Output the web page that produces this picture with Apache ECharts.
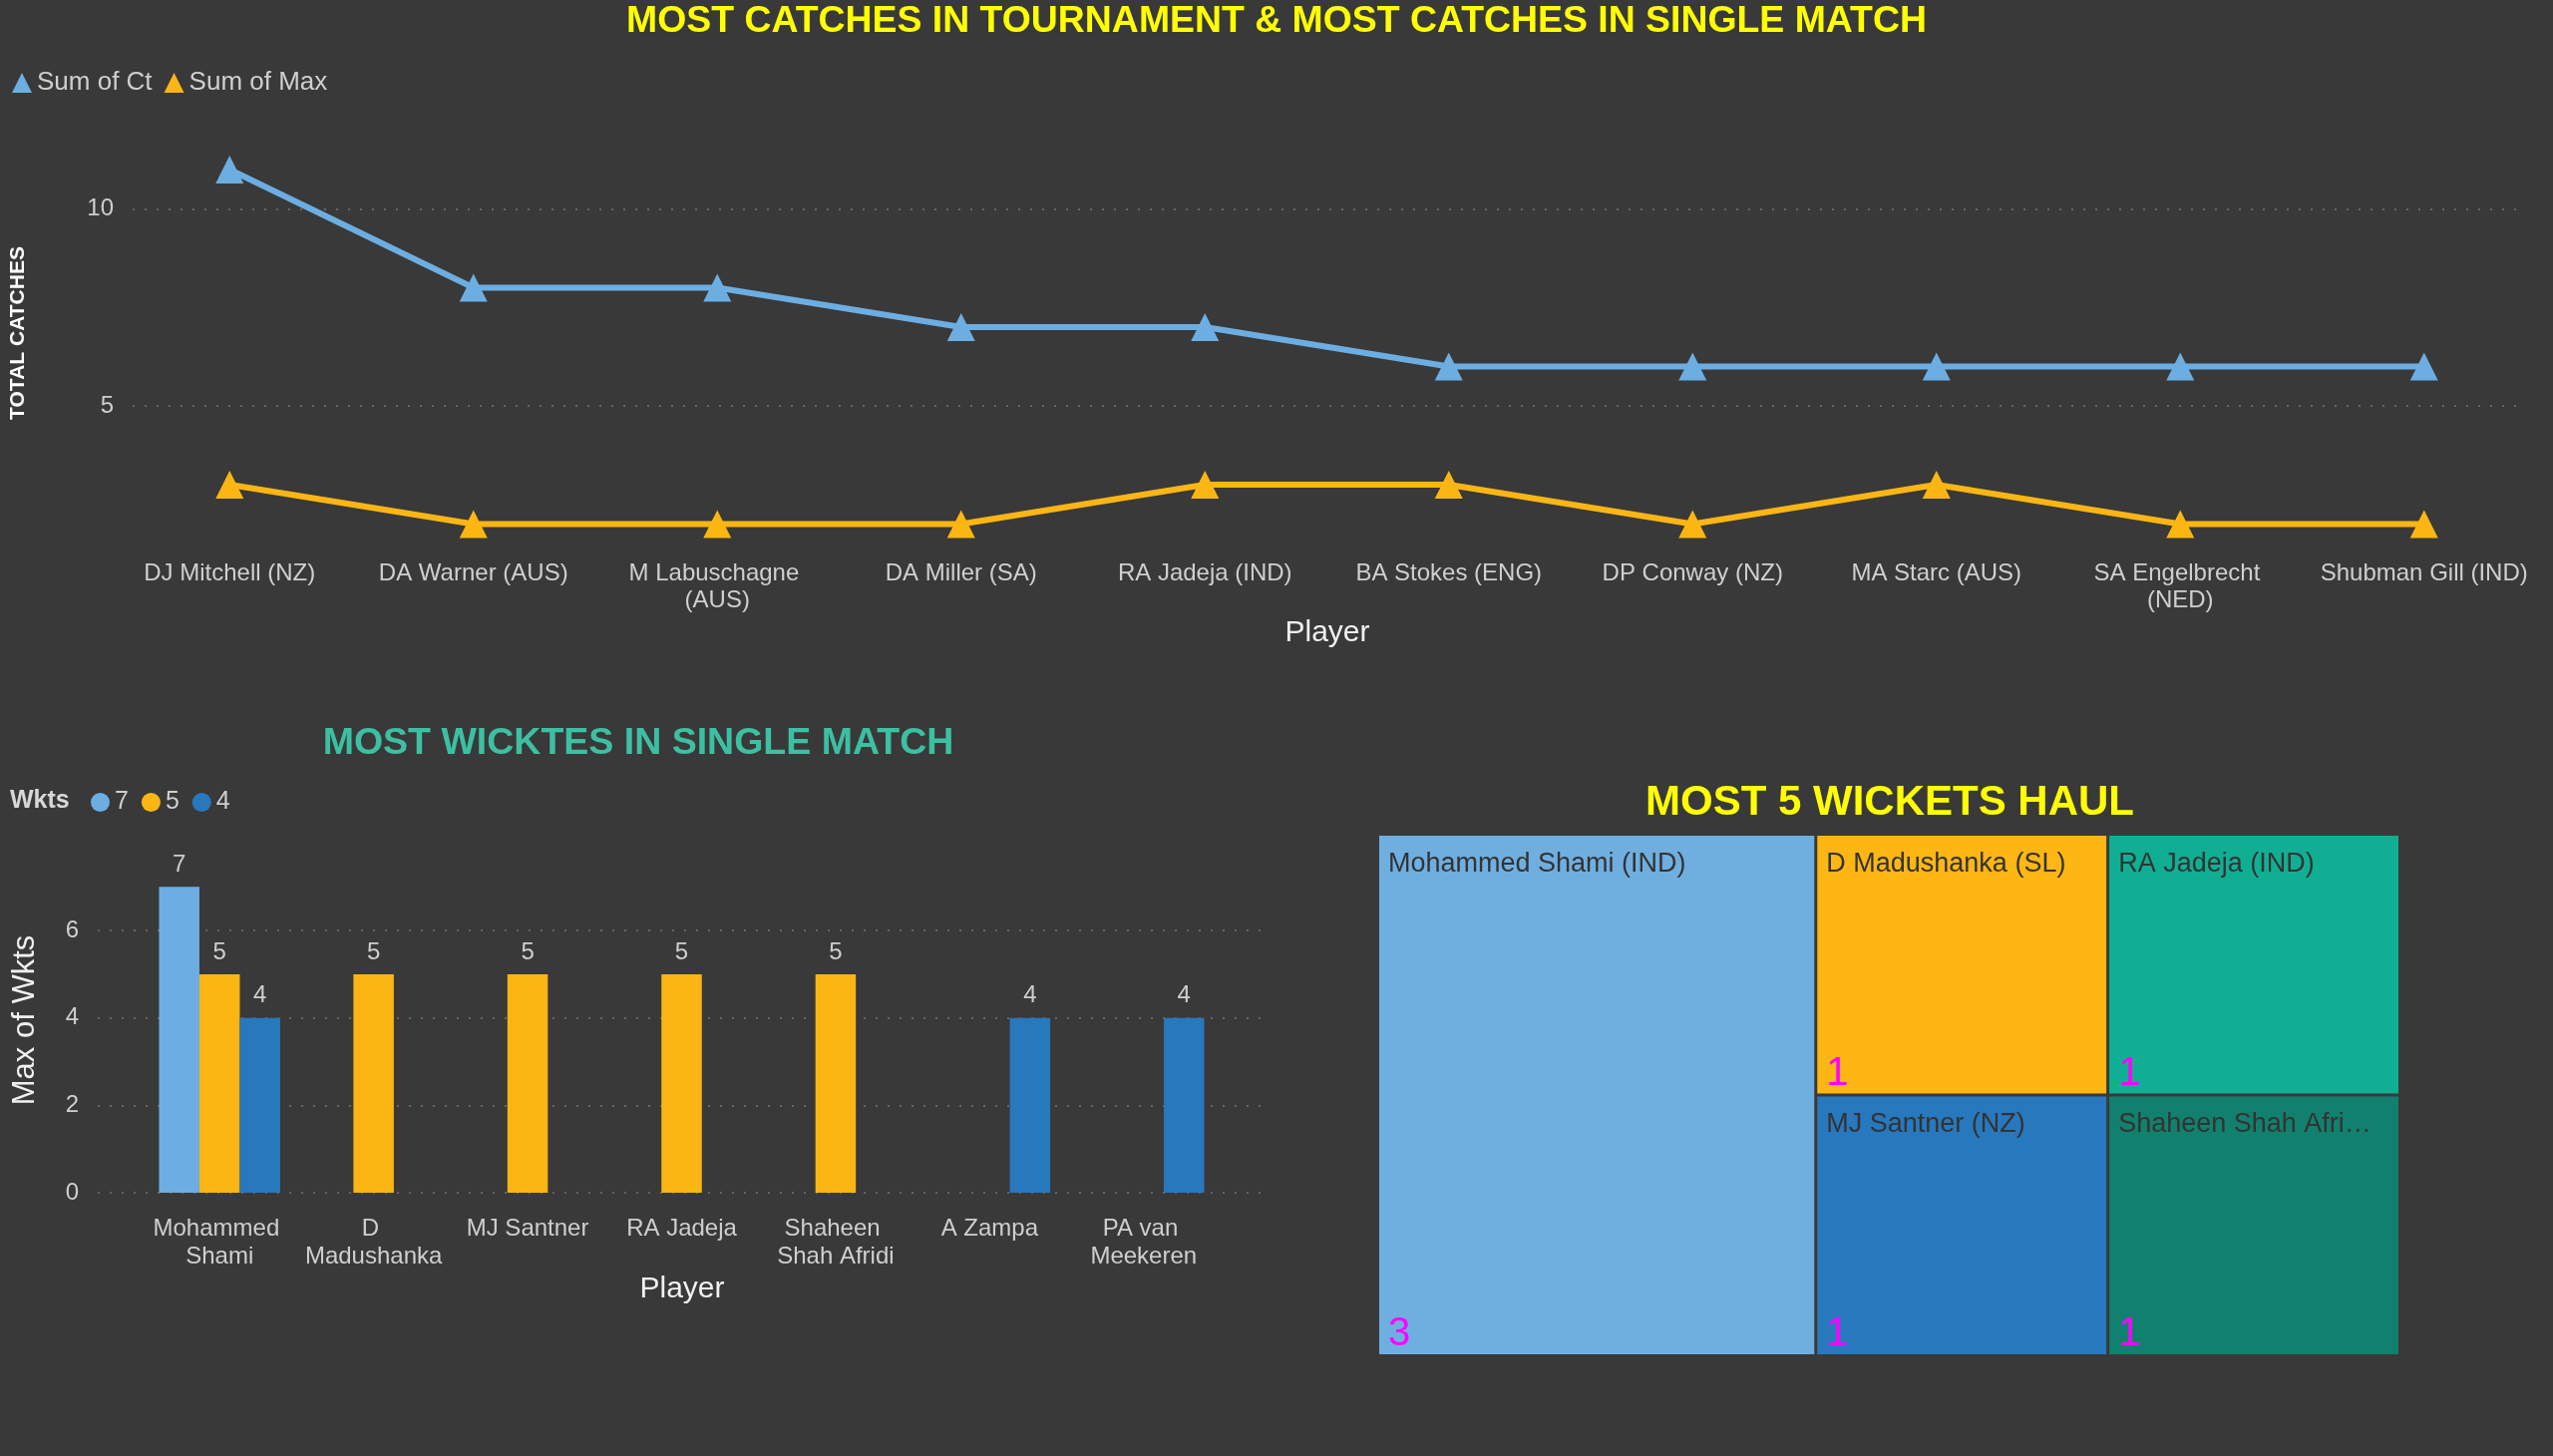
<!DOCTYPE html>
<html><head><meta charset="utf-8">
<script src="https://cdn.jsdelivr.net/npm/echarts@6/dist/echarts.min.js"></script>
<style>html,body{margin:0;padding:0;background:#393939;}#c{width:2560px;height:1460px;}</style>
</head><body><div id="c"></div>
<script>
// ---- data ----
const catchPlayers = ['DJ Mitchell (NZ)','DA Warner (AUS)','M Labuschagne (AUS)','DA Miller (SA)','RA Jadeja (IND)','BA Stokes (ENG)','DP Conway (NZ)','MA Starc (AUS)','SA Engelbrecht (NED)','Shubman Gill (IND)'];
const sumOfCt  = [11, 8, 8, 7, 7, 6, 6, 6, 6, 6];
const sumOfMax = [3, 2, 2, 2, 3, 3, 2, 3, 2, 2];

const wktPlayers = ['Mohammed Shami','D Madushanka','MJ Santner','RA Jadeja','Shaheen Shah Afridi','A Zampa','PA van Meekeren'];
const wktGroups = ['7','5','4'];
const wkts7 = [7, null, null, null, null, null, null];
const wkts5 = [5, 5, 5, 5, 5, null, null];
const wkts4 = [4, null, null, null, null, 4, 4];

const haulPlayers = ['Mohammed Shami (IND)','D Madushanka (SL)','MJ Santner (NZ)','RA Jadeja (IND)','Shaheen Shah Afridi (PAK)'];
const haulCounts = [3, 1, 1, 1, 1];

// ---- styles ----
const FONT = 'Liberation Sans, Arial, sans-serif';
const BG = '#393939';
const BLUE = '#6CAEE2', ORANGE = '#FCB614', DBLUE = '#2878BE';
const haulColors = ['#6FAFE0', '#FDB614', '#2878BE', '#10AF93', '#12806E'];
const LBL = '#CFCFCF';
const GRID_LINE = {lineStyle:{type:[2,10], color:'#666666', width:2}};

const chart = echarts.init(document.getElementById('c'), null, {renderer:'canvas'});

function txt(x, y, text, size, color, weight, rot) {
  return {type:'text', x:x, y:y, rotation: rot || 0, silent:true,
    style:{text:text, fill:color, fontSize:size, fontWeight:weight||'normal', fontFamily:FONT, align:'center', verticalAlign:'middle'}};
}

const option = {
  backgroundColor: BG,
  animation: false,
  textStyle: {fontFamily: FONT},
  graphic: [
    txt(1280, 22, 'MOST CATCHES IN TOURNAMENT & MOST CATCHES IN SINGLE MATCH', 37.4, '#FFFF00', 'bold'),
    txt(640, 746, 'MOST WICKTES IN SINGLE MATCH', 37.5, '#3CC0A2', 'bold'),
    txt(1895, 805, 'MOST 5 WICKETS HAUL', 42, '#FFFF00', 'bold'),
    txt(18, 334, 'TOTAL CATCHES', 21, '#FFFFFF', 'bold', Math.PI/2),
    txt(25, 1023, 'Max of Wkts', 31, '#F0F0F0', 'normal', Math.PI/2),
    txt(1331, 635, 'Player', 30, '#F0F0F0'),
    txt(684, 1293, 'Player', 30, '#F0F0F0'),
    {type:'text', x:10, y:803, silent:true, style:{text:'Wkts', fill:'#D8D8D8', fontSize:25, fontWeight:'bold', fontFamily:FONT, align:'left', verticalAlign:'middle'}}
  ],
  legend: [
    {data:['Sum of Ct','Sum of Max'], left:12, top:70, icon:'triangle', itemWidth:20, itemHeight:20, itemGap:12, padding:0,
     textStyle:{color:LBL, fontSize:26, fontFamily:FONT}, selectedMode:false},
    {data:wktGroups, left:91, top:792, icon:'circle', itemWidth:19, itemHeight:19, itemGap:13, padding:0,
     textStyle:{color:LBL, fontSize:25, fontFamily:FONT}, selectedMode:false}
  ],
  grid: [
    {left:133, right:35, top:130.5, bottom:855.5, outerBoundsMode:'none'},
    {left:108, right:7, top:130.5, bottom:914.75, outerBoundsMode:'none'},
    {left:98, right:1295, top:845.4, bottom:264, outerBoundsMode:'none'},
    {left:143, right:1336, top:845.4, bottom:264, outerBoundsMode:'none'}
  ],
  xAxis: [
    {gridIndex:0, type:'value', show:false},
    {gridIndex:1, type:'category', data:catchPlayers, boundaryGap:true,
     axisLine:{show:false}, axisTick:{show:false}, splitLine:{show:false},
     axisLabel:{interval:0, color:LBL, fontSize:24, fontFamily:FONT, margin:17, lineHeight:27, width:220, overflow:'break'}},
    {gridIndex:2, type:'value', show:false},
    {gridIndex:3, type:'category', data:wktPlayers, boundaryGap:true,
     axisLine:{show:false}, axisTick:{show:false}, splitLine:{show:false},
     axisLabel:{interval:0, color:LBL, fontSize:24, fontFamily:FONT, margin:22, lineHeight:28, width:140, overflow:'break'}}
  ],
  yAxis: [
    {gridIndex:0, type:'value', min:0, max:12, interval:5,
     axisLine:{show:false}, axisTick:{show:false},
     axisLabel:{color:LBL, fontSize:24, fontFamily:FONT, margin:19, showMinLabel:false, showMaxLabel:false},
     splitLine:Object.assign({show:true, showMinLine:false, showMaxLine:false}, GRID_LINE)},
    {gridIndex:1, type:'value', min:1.5, max:12, show:false},
    {gridIndex:2, type:'value', min:0, max:8, interval:2,
     axisLine:{show:false}, axisTick:{show:false},
     axisLabel:{color:LBL, fontSize:24, fontFamily:FONT, margin:19, showMaxLabel:false},
     splitLine:Object.assign({show:true, showMaxLine:false}, GRID_LINE)},
    {gridIndex:3, type:'value', min:0, max:8, show:false}
  ],
  series: [
    {name:'Sum of Ct', type:'line', xAxisIndex:1, yAxisIndex:1, data:sumOfCt,
     symbol:'triangle', symbolSize:28, lineStyle:{width:6, color:BLUE}, itemStyle:{color:BLUE}, emphasis:{disabled:true}},
    {name:'Sum of Max', type:'line', xAxisIndex:1, yAxisIndex:1, data:sumOfMax,
     symbol:'triangle', symbolSize:28, lineStyle:{width:6, color:ORANGE}, itemStyle:{color:ORANGE}, emphasis:{disabled:true}},
    {name:wktGroups[0], type:'bar', xAxisIndex:3, yAxisIndex:3, data:wkts7, barWidth:40.5, barGap:'0%',
     itemStyle:{color:BLUE}, label:{show:true, position:'top', distance:10, color:LBL, fontSize:24, fontFamily:FONT}},
    {name:wktGroups[1], type:'bar', xAxisIndex:3, yAxisIndex:3, data:wkts5, barWidth:40.5, barGap:'0%',
     itemStyle:{color:ORANGE}, label:{show:true, position:'top', distance:10, color:LBL, fontSize:24, fontFamily:FONT}},
    {name:wktGroups[2], type:'bar', xAxisIndex:3, yAxisIndex:3, data:wkts4, barWidth:40.5, barGap:'0%',
     itemStyle:{color:DBLUE}, label:{show:true, position:'top', distance:10, color:LBL, fontSize:24, fontFamily:FONT}},
    {name:'Five wicket hauls', type:'treemap', left:1383, top:838, width:1022, height:520,
     roam:false, nodeClick:false, breadcrumb:{show:false}, squareRatio:1, sort:false,
     itemStyle:{gapWidth:3, borderWidth:0, borderColor:BG},
     label:{show:true, position:'insideTopLeft', distance:0, formatter:'{b}', color:'#333333', fontSize:27, fontFamily:FONT,
            padding:[15,0,0,9], overflow:'truncate', ellipsis:'…'},
     upperLabel:{show:false}, emphasis:{disabled:true},
     data: haulPlayers.map((n,i)=>({name:n, value:haulCounts[i], itemStyle:{color:haulColors[i]}}))},
    {name:'Five wicket haul counts', type:'treemap', left:1383, top:838, width:1022, height:520, silent:true,
     roam:false, nodeClick:false, breadcrumb:{show:false}, squareRatio:1, sort:false,
     itemStyle:{gapWidth:3, borderWidth:0, color:'rgba(0,0,0,0)', borderColor:'rgba(0,0,0,0)'},
     label:{show:true, position:'insideBottomLeft', distance:0, formatter:'{c}', color:'#FF00FF', fontSize:40, fontFamily:FONT,
            padding:[0,9,0,9]},
     upperLabel:{show:false}, emphasis:{disabled:true},
     data: haulPlayers.map((n,i)=>({name:n, value:haulCounts[i], itemStyle:{color:'rgba(0,0,0,0)'}}))}
  ]
};
chart.setOption(option);
</script>
</body></html>
